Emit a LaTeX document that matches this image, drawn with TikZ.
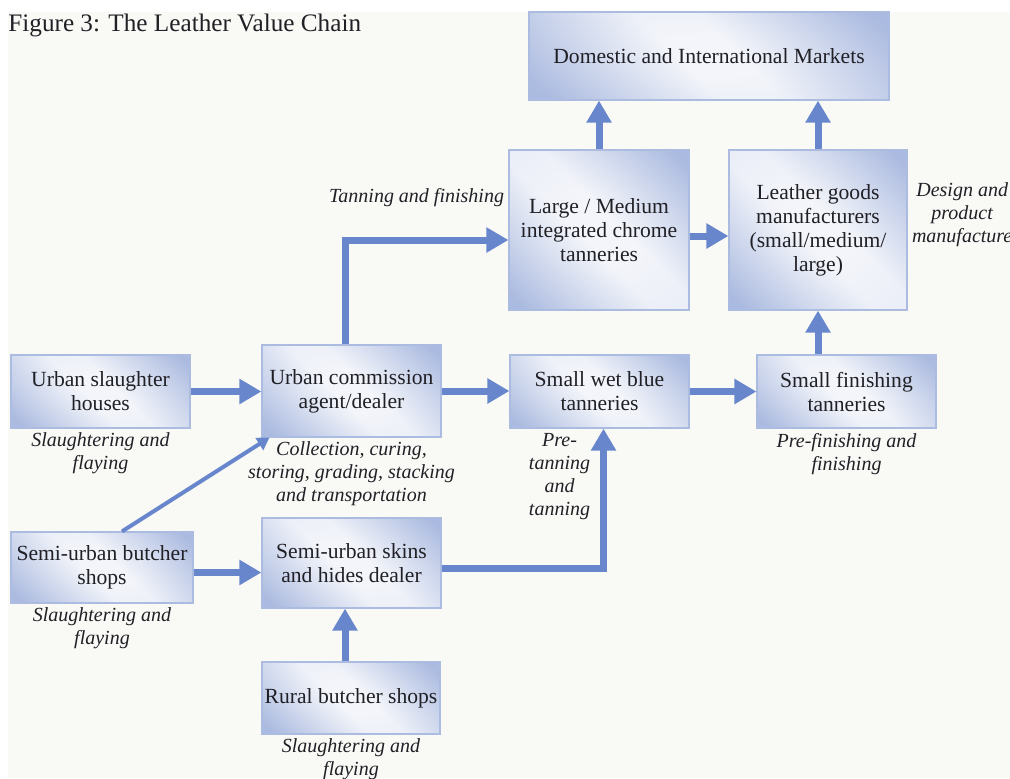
\documentclass[tikz,border=0pt]{standalone}
\usepackage{fontspec}
\setmainfont{Liberation Serif}
\usepackage{tikz}
\usetikzlibrary{arrows.meta, positioning}
\definecolor{LVCArrow}{RGB}{104, 134, 204}
\definecolor{LVCEdge}{RGB}{136, 158, 211}
\definecolor{LVCMid}{RGB}{190, 202, 233}
\definecolor{LVCCentre}{RGB}{243, 245, 250}
\definecolor{LVCLine}{RGB}{172, 188, 224}
\definecolor{LVCPaper}{RGB}{249, 249, 246}
\definecolor{LVCText}{RGB}{32, 32, 38}

% pale centre, and two darker corners laid over it
\pgfdeclareradialshading{stagebase}{\pgfpoint{0bp}{0bp}}{color(0bp)=(LVCCentre); color(12bp)=(LVCCentre);
  color(70bp)=(LVCMid)}
\pgfdeclareverticalshading{stageglow}{100bp}{color(0bp)=(LVCEdge); color(18bp)=(LVCEdge);
  color(45bp)=(LVCCentre); color(55bp)=(LVCCentre); color(82bp)=(LVCEdge); color(100bp)=(LVCEdge)}

\tikzset{
  stage/.style={draw=LVCLine, line width=0.6pt, shading=stagebase, shade,
    path picture={\shade[shading=stageglow, shading angle=-45, opacity=0.6]
      (path picture bounding box.south west) rectangle (path picture bounding box.north east);},
    align=center, inner sep=0pt, font=\fontsize{10.8}{12}\selectfont, text=LVCText},
  note/.style={align=center, inner sep=1pt, font=\fontsize{10}{11.5}\selectfont\itshape, text=LVCText},
  flow/.style={draw=LVCArrow, line width=3.5pt, -{Triangle[length=11pt, width=12pt]}},
  feed/.style={draw=LVCArrow, line width=2pt, -{Triangle[length=6pt, width=7pt]}}
}

\begin{document}
\begin{tikzpicture}[x=0.5pt, y=-0.5pt]
  \path[use as bounding box] (0,0) rectangle (1010,778);
  \fill[white] (0,0) rectangle (1010,778);
  \fill[LVCPaper] (8,12) rectangle (1010,778);
  \node[anchor=west, inner sep=0pt, font=\fontsize{12.6}{14}\selectfont, text=LVCText] (title) at (8,25)
    {Figure 3: The Leather Value Chain};

  % stages of the chain
  \node[stage, minimum width=180pt, minimum height=44pt] (mkt) at (709,56) {Domestic and International Markets};
  \node[stage, minimum width=90pt, minimum height=80pt] (lmt) at (599,230) {Large / Medium\\integrated chrome\\tanneries};
  \node[stage, minimum width=89pt, minimum height=80pt] (lgm) at (818,230) {Leather goods\\manufacturers\\(small/medium/\\large)};
  \node[stage, minimum width=89.5pt, minimum height=36.5pt] (ush) at (100.5,391.5) {Urban slaughter\\houses};
  \node[stage, minimum width=89.5pt, minimum height=46pt] (uca) at (351.5,391) {Urban commission\\agent/dealer};
  \node[stage, minimum width=89.5pt, minimum height=36.5pt] (swb) at (599.5,391.5) {Small wet blue\\tanneries};
  \node[stage, minimum width=89.5pt, minimum height=36.5pt] (sft) at (846.5,391.5) {Small finishing\\tanneries};
  \node[stage, minimum width=91pt, minimum height=35.5pt] (sbs) at (102,567.5) {Semi-urban butcher\\shops};
  \node[stage, minimum width=89.5pt, minimum height=45pt] (ssd) at (351.5,563) {Semi-urban skins\\and hides dealer};
  \node[stage, minimum width=89pt, minimum height=36pt] (rbs) at (351,698) {Rural butcher shops};

  % activities
  \node[note, below=1pt of ush] (ushnote) {Slaughtering and\\flaying};
  \node[note, below=1pt of uca] (ucanote) {Collection, curing,\\storing, grading, stacking\\and transportation};
  \node[note, below=1pt of swb, xshift=-20pt] (swbnote) {Pre-\\tanning\\and\\tanning};
  \node[note, below=1pt of sft] (sftnote) {Pre-finishing and\\finishing};
  \node[note, below=1pt of sbs] (sbsnote) {Slaughtering and\\flaying};
  \node[note, below=1pt of rbs] (rbsnote) {Slaughtering and\\flaying};
  \node[note, left=1pt of lmt.west, yshift=16pt] (lmtnote) {Tanning and finishing};
  \node[note, right=1pt of lgm.east, yshift=7.5pt] (lgmnote) {Design and\\product\\manufacture};

  % flows
  \draw[flow] (lmt.north) -- (lmt.north |- mkt.south);
  \draw[flow] (lgm.north) -- (lgm.north |- mkt.south);
  \draw[flow] ([yshift=-3pt]lmt.east) -- ([yshift=-3pt]lmt.east -| lgm.west);
  \draw[flow] (sft.north -| lgm.south) -- (lgm.south);
  \draw[flow] (ush.east) -- (ush.east -| uca.west);
  \draw[flow] (uca.east) -- (uca.east -| swb.west);
  \draw[flow] (swb.east) -- (swb.east -| sft.west);
  \draw[flow] ([xshift=-3pt]uca.north) |- ([yshift=-5pt]lmt.west);
  \draw[feed] ([xshift=10pt]sbs.north) -- ([xshift=4pt]uca.south west);
  \draw[flow] ([yshift=-2.5pt]sbs.east) -- ([yshift=-2.5pt]sbs.east -| ssd.west);
  \draw[flow] ([yshift=-2.5pt]ssd.east) -| ([xshift=2pt]swb.south);
  \draw[flow] ([xshift=-3pt]rbs.north) -- ([xshift=-3pt]rbs.north |- ssd.south);
\end{tikzpicture}
\end{document}
